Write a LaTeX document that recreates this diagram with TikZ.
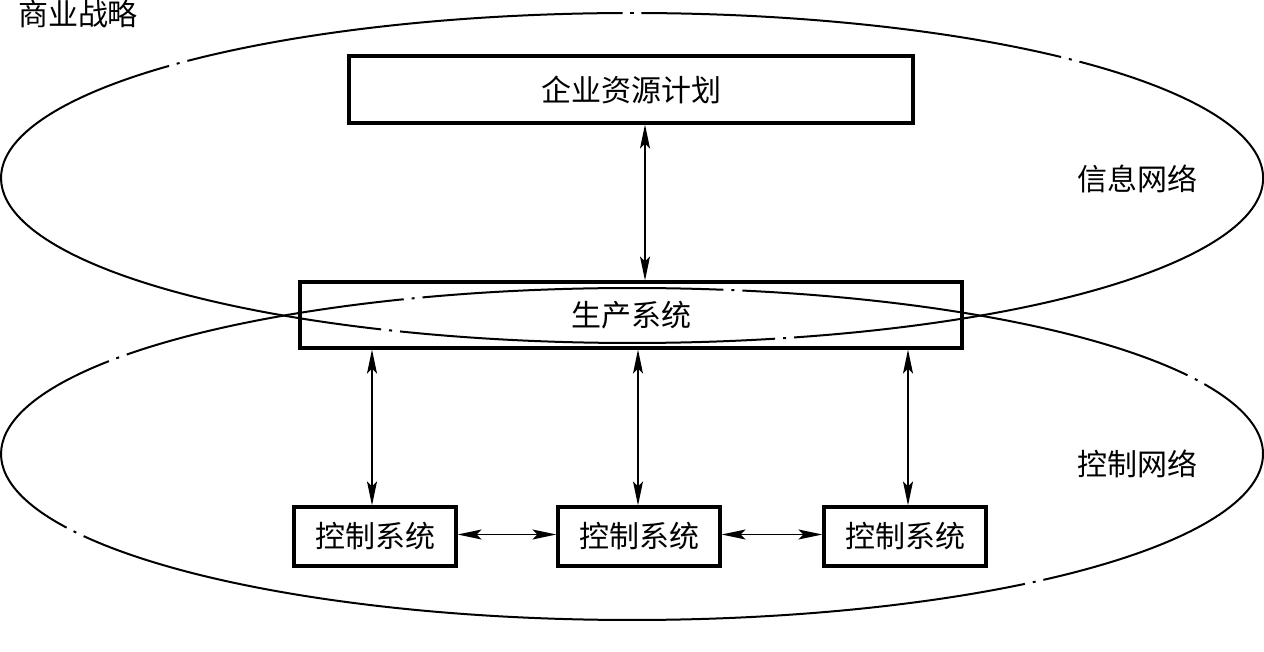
\documentclass[tikz,border=0pt]{standalone}
\usepackage{fontspec}
\newfontfamily\cjk{Noto Sans CJK SC}
\usetikzlibrary{arrows.meta}
\tikzset{
  box/.style={draw, line width=3.2pt, inner sep=0pt, font=\cjk\fontsize{30}{36}\selectfont},
  lbl/.style={inner sep=0pt, font=\cjk\fontsize{30}{36}\selectfont},
  ell/.style={line width=2pt},
  arr/.style={line width=1.6pt, {Stealth[length=24pt,width=10pt,inset=5pt]}-{Stealth[length=24pt,width=10pt,inset=5pt]}}
}
\begin{document}
\begin{tikzpicture}[x=1pt,y=1pt]
\useasboundingbox (0,0) rectangle (1264,651);
\coordinate (topc) at (632,473);
\coordinate (botc) at (632,197);
% top ellipse (dash-dot, gaps at given parametric angles)
\foreach \a/\b in {284.89/404.84, 47.16/89.14, 90.86/134.8, 137.2/246.57, 248.43/283.11,
                   45.82/46.18, 89.86/90.14, 135.81/136.19, 247.35/247.65, 283.86/284.14}
  \draw[ell] ([shift={(\a:631pt and 165pt)}]topc) arc[start angle=\a, end angle=\b, x radius=631pt, y radius=165pt];
% bottom ellipse
\foreach \a/\b in {310.69/384.9, 28.3/79.93, 81.67/109.39, 111.21/143.2, 146.0/206.35, 209.65/308.51,
                   26.33/26.87, 80.66/80.94, 110.16/110.44, 144.38/144.82, 207.74/208.26, 309.43/309.77}
  \draw[ell] ([shift={(\a:631pt and 166pt)}]botc) arc[start angle=\a, end angle=\b, x radius=631pt, y radius=166pt];
% nodes
\node[box, minimum width=564pt, minimum height=67pt] (erp) at (631,561.5) {企业资源计划};
\node[box, minimum width=662pt, minimum height=66pt] (prod) at (631,336) {生产系统};
\node[box, minimum width=162pt, minimum height=59pt] (c1) at (375,114.5) {控制系统};
\node[box, minimum width=162pt, minimum height=59pt] (c2) at (639,114.5) {控制系统};
\node[box, minimum width=162pt, minimum height=59pt] (c3) at (905,114.5) {控制系统};
\node[lbl] (strat) at (78,637) {商业战略};
\node[lbl] (info) at (1137,472) {信息网络};
\node[lbl] (ctrl) at (1137,187) {控制网络};
% connectors
\draw[arr] ([xshift=14pt]erp.south) -- ([xshift=14pt]erp.south |- prod.north);
\draw[arr] (prod.south -| c1.north) ++(-3pt,0) coordinate (p1) -- (p1 |- c1.north);
\draw[arr] (prod.south -| c2.north) ++(-1pt,0) coordinate (p2) -- (p2 |- c2.north);
\draw[arr] (prod.south -| c3.north) ++(3pt,0) coordinate (p3) -- (p3 |- c3.north);
\draw[arr] ([yshift=2pt]c1.east) -- ([yshift=2pt]c2.west);
\draw[arr] ([yshift=2pt]c2.east) -- ([yshift=2pt]c3.west);
\end{tikzpicture}
\end{document}
